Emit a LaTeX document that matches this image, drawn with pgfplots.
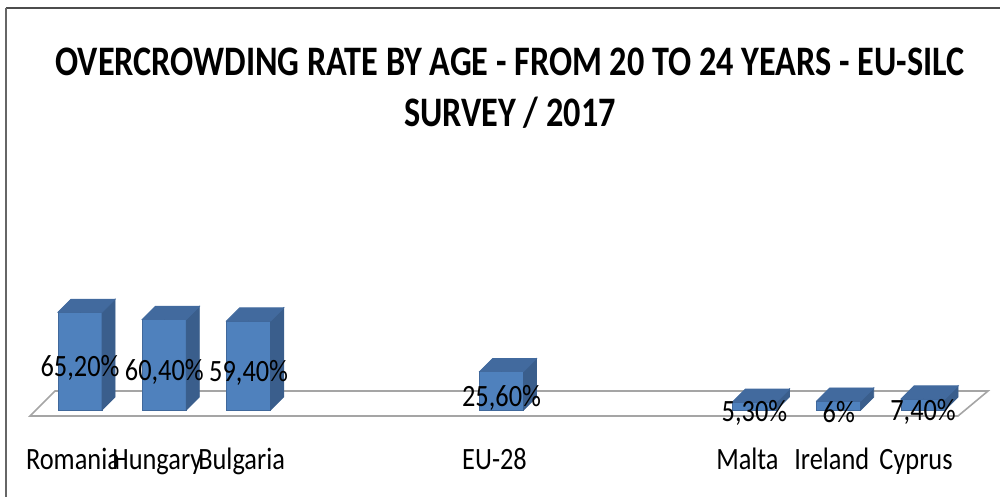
\documentclass[border=0pt]{standalone}
\usepackage{pgfplots}
\usepackage{pgfplotstable}
\pgfplotsset{compat=1.18}
\usepackage{fontspec}
\setmainfont{Carlito}
\newfontfamily\titlefont{Carlito}[FakeStretch=0.815]
\newfontfamily\lblfont{Carlito}[FakeStretch=0.85]

\definecolor{barfront}{RGB}{79,129,189}
\definecolor{barside}{RGB}{58,94,140}
\definecolor{bartop}{RGB}{66,106,158}
\definecolor{floorline}{RGB}{165,165,165}

% slot positions: 0,1,2 | 5 | 8,9,10
\pgfplotstableread{
x v lab
0 65.2 65,20
1 60.4 60,40
2 59.4 59,40
5 25.6 25,60
8 5.3 5,30
9 6 6
10 7.4 7,40
}\ratetable

\begin{document}
\begin{tikzpicture}
\begin{axis}[
    scale only axis,
    width=500pt, height=248.5pt,
    xmin=-0.949, xmax=10.913,
    ymin=-58, ymax=273.33,
    clip=false,
    axis line style={draw=none},
    ytick=\empty,
    major tick length=0pt,
    xtick={0,1,2,5,8,9,10},
    xticklabels={Romania,Hungary,Bulgaria,EU-28,Malta,Ireland,Cyprus},
    xticklabel style={font=\lblfont\fontsize{15.5}{18}\selectfont,
        anchor=base, yshift=13.5pt, xshift=-3.5pt},
]
% frame (top and left edges of the chart area)
\draw[black!70, line width=1pt] (rel axis cs:0.006,0.984) -- (rel axis cs:1,0.984);
\draw[black!60, line width=0.6pt] (rel axis cs:0.006,0.984) -- (rel axis cs:0.006,0);

% floor
\draw[floorline, line width=0.8pt, fill=white]
    (-0.593,-4) -- (10.415,-4) -- (10.771,12.67) -- (-0.297,12.67) -- cycle;

% side and top faces of the columns
\addplot[scatter, only marks, mark=*, mark size=0pt,
    mark options={draw=none, fill=none},
    visualization depends on={rawy \as \h},
    scatter/@pre marker code/.code={
        \fill[barside] (11pt,0pt) -- (17.5pt,6.5pt) -- (17.5pt,{6.5pt-0.75pt*\h})
            -- (11pt,{-0.75pt*\h}) -- cycle;
        \fill[bartop] (-11pt,0pt) -- (-4.5pt,6.5pt) -- (17.5pt,6.5pt)
            -- (11pt,0pt) -- cycle;
    },
    scatter/@post marker code/.code={},
] table[x=x, y=v] {\ratetable};

% front faces with value labels
\addplot[ybar, bar width=22pt, fill=barfront, draw=barside!70!barfront,
    line width=0.3pt,
    visualization depends on={rawy \as \h},
    point meta=explicit symbolic,
    nodes near coords={\pgfplotspointmeta\%},
    every node near coord/.append style={
        font=\lblfont\fontsize{15.5}{18}\selectfont, text=black,
        anchor=center, yshift={-(0.375*\h+3.5)*1pt}},
] table[x=x, y=v, meta=lab] {\ratetable};

% title
\node[font=\titlefont\bfseries\fontsize{21}{26}\selectfont, anchor=base]
    at (axis description cs:0.51,0.849)
    {OVERCROWDING RATE BY AGE - FROM 20 TO 24 YEARS - EU-SILC};
\node[font=\titlefont\bfseries\fontsize{21}{26}\selectfont, anchor=base]
    at (axis description cs:0.51,0.7445) {SURVEY / 2017};
\end{axis}
\pgfresetboundingbox
\path[use as bounding box] (current axis.south west) rectangle (current axis.north east);
\end{tikzpicture}
\end{document}
